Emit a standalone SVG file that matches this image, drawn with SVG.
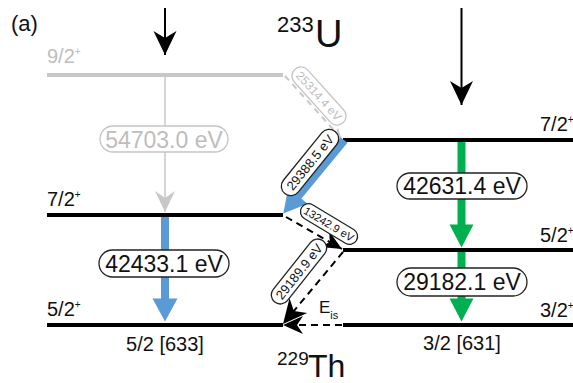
<svg xmlns="http://www.w3.org/2000/svg" width="573" height="383" viewBox="0 0 573 383">
<style>
  text { font-family: "Liberation Sans", Arial, sans-serif; fill: #111; }
  .lvl { stroke: #000; stroke-width: 4; }
  .lvl-g { stroke: #c8c8c8; stroke-width: 4; }
  .lbl { font-size: 20px; }
  .box { fill: #fff; stroke: #222; stroke-width: 1.3; }
  .box-g { fill: #fff; stroke: #c4c4c4; stroke-width: 1.3; }
  .big { font-size: 23px; text-anchor: middle; }
  .small { text-anchor: middle; }
  .dash { stroke: #000; stroke-width: 2; stroke-dasharray: 7 5; fill: none; }
  .grey-t { fill: #bdbdbd; }
</style>
<defs>
  <marker id="stealthL" viewBox="-30 -15 32 30" markerWidth="32" markerHeight="30" refX="0" refY="0" orient="auto" markerUnits="userSpaceOnUse">
    <path d="M0,0 L-24,-11.5 L-17,0 L-24,11.5 Z" fill="#000"/>
  </marker>
  <marker id="stealthM" viewBox="-26 -13 28 26" markerWidth="28" markerHeight="26" refX="0" refY="0" orient="auto" markerUnits="userSpaceOnUse">
    <path d="M0,0 L-20,-9 L-14,0 L-20,9 Z" fill="#000"/>
  </marker>
  <marker id="stealthG" viewBox="-26 -13 28 26" markerWidth="28" markerHeight="26" refX="0" refY="0" orient="auto" markerUnits="userSpaceOnUse">
    <path d="M0,0 L-21,-10 L-14,0 L-21,10 Z" fill="#c8c8c8"/>
  </marker>
  <marker id="stealthGs" viewBox="-14 -8 16 16" markerWidth="16" markerHeight="16" refX="0" refY="0" orient="auto" markerUnits="userSpaceOnUse">
    <path d="M0,0 L-10,-5 L-7,0 L-10,5 Z" fill="#c8c8c8"/>
  </marker>
  <marker id="triB" viewBox="-2 -15 30 30" markerWidth="30" markerHeight="30" refX="0.5" refY="0" orient="auto" markerUnits="userSpaceOnUse">
    <path d="M0,-12.5 L23,0 L0,12.5 Z" fill="#5b9bd5"/>
  </marker>
  <marker id="triG" viewBox="-2 -15 30 30" markerWidth="30" markerHeight="30" refX="0.5" refY="0" orient="auto" markerUnits="userSpaceOnUse">
    <path d="M0,-12 L23,0 L0,12 Z" fill="#00b050"/>
  </marker>
</defs>

<rect width="573" height="383" fill="#fff"/>

<!-- titles -->
<text x="11" y="31" font-size="22">(a)</text>
<text x="277" y="32" font-size="22">233</text>
<text x="315" y="47" font-size="38">U</text>
<text x="277" y="365" font-size="19">229</text>
<text x="308" y="377" font-size="32">Th</text>

<!-- nodes (levels) -->
<g id="level-9-2-U">
  <line class="lvl-g" x1="47" y1="75" x2="283" y2="75"/>
  <text class="lbl grey-t" x="47" y="63">9/2<tspan font-size="10" dy="-8">+</tspan></text>
</g>
<g id="level-7-2-Th">
  <line class="lvl" x1="47" y1="215" x2="283" y2="215"/>
  <text class="lbl" x="47" y="206">7/2<tspan font-size="10" dy="-8">+</tspan></text>
</g>
<g id="level-5-2-Th">
  <line class="lvl" x1="47" y1="325" x2="283" y2="325"/>
  <text class="lbl" x="47" y="316">5/2<tspan font-size="10" dy="-8">+</tspan></text>
  <text class="lbl small" x="165" y="351">5/2 [633]</text>
</g>
<g id="level-7-2-r">
  <line class="lvl" x1="343" y1="140" x2="573" y2="140"/>
  <text class="lbl" x="540" y="131">7/2<tspan font-size="10" dy="-8">+</tspan></text>
</g>
<g id="level-5-2-r">
  <line class="lvl" x1="343" y1="250" x2="573" y2="250"/>
  <text class="lbl" x="540" y="242">5/2<tspan font-size="10" dy="-8">+</tspan></text>
</g>
<g id="level-3-2-r">
  <line class="lvl" x1="343" y1="325" x2="573" y2="325"/>
  <text class="lbl" x="540" y="317">3/2<tspan font-size="10" dy="-8">+</tspan></text>
  <text class="lbl small" x="462" y="350">3/2 [631]</text>
</g>

<!-- connectors -->
<g id="connectors">
  <!-- incoming black arrows -->
  <line x1="165" y1="8" x2="165" y2="55" stroke="#000" stroke-width="2" marker-end="url(#stealthL)"/>
  <line x1="461.5" y1="8" x2="461.5" y2="105" stroke="#000" stroke-width="2" marker-end="url(#stealthL)"/>

  <!-- grey 54703.0 -->
  <line x1="165" y1="77" x2="165" y2="212" stroke="#c8c8c8" stroke-width="1.5" marker-end="url(#stealthG)"/>
  <rect class="box-g" x="100" y="126" width="128" height="26" rx="13"/>
  <text class="big grey-t" x="164" y="147.5">54703.0 eV</text>

  <!-- grey dashed 25314.4 -->
  <line x1="285" y1="76" x2="341" y2="138" stroke="#c8c8c8" stroke-width="2" stroke-dasharray="6 5" marker-end="url(#stealthGs)"/>
  <g transform="translate(319,96) rotate(48)">
    <rect class="box-g" x="-36" y="-9" width="72" height="18" rx="9"/>
    <text class="grey-t small" x="0" y="4.3" font-size="12">25314.4 eV</text>
  </g>

  <!-- blue 42433.1 -->
  <line x1="165" y1="217" x2="165" y2="299" stroke="#5b9bd5" stroke-width="8" marker-end="url(#triB)"/>
  <rect class="box" x="99" y="250" width="130" height="27" rx="13.5"/>
  <text class="big" x="164" y="271.7">42433.1 eV</text>

  <!-- blue diagonal 29388.5 -->
  <line x1="344" y1="140" x2="297.6" y2="196.2" stroke="#5b9bd5" stroke-width="9" marker-end="url(#triB)"/>
  <g transform="translate(310,162.5) rotate(-51)">
    <rect class="box" x="-40" y="-9.5" width="80" height="19" rx="9.5"/>
    <text class="small" x="0" y="4.7" font-size="13">29388.5 eV</text>
  </g>

  <!-- green 42631.4 -->
  <line x1="461.5" y1="142" x2="461.5" y2="225" stroke="#00b050" stroke-width="8" marker-end="url(#triG)"/>
  <rect class="box" x="397" y="173" width="130" height="26" rx="13"/>
  <text class="big" x="462" y="194">42631.4 eV</text>

  <!-- green 29182.1 -->
  <line x1="461.5" y1="252" x2="461.5" y2="299" stroke="#00b050" stroke-width="8" marker-end="url(#triG)"/>
  <rect class="box" x="397" y="268" width="130" height="28" rx="14"/>
  <text class="big" x="462" y="290.3">29182.1 eV</text>

  <!-- dashed 13242.9 -->
  <line class="dash" x1="286" y1="217" x2="342" y2="249" marker-end="url(#stealthM)"/>
  <g transform="translate(329,224) rotate(31)">
    <rect class="box" x="-32" y="-8" width="64" height="16" rx="8"/>
    <text class="small" x="0" y="4" font-size="11">13242.9 eV</text>
  </g>

  <!-- dashed 29189.9 -->
  <line class="dash" x1="343" y1="252" x2="283" y2="324" marker-end="url(#stealthL)"/>
  <g transform="translate(299,271.5) rotate(-51.5)">
    <rect class="box" x="-39" y="-9" width="78" height="18" rx="9"/>
    <text class="small" x="0" y="4.6" font-size="13">29189.9 eV</text>
  </g>

  <!-- E_is -->
  <line class="dash" x1="342" y1="325" x2="283" y2="325" marker-end="url(#stealthM)"/>
  <text x="319" y="313" font-size="17">E<tspan font-size="11" dy="6">is</tspan></text>
</g>
</svg>
